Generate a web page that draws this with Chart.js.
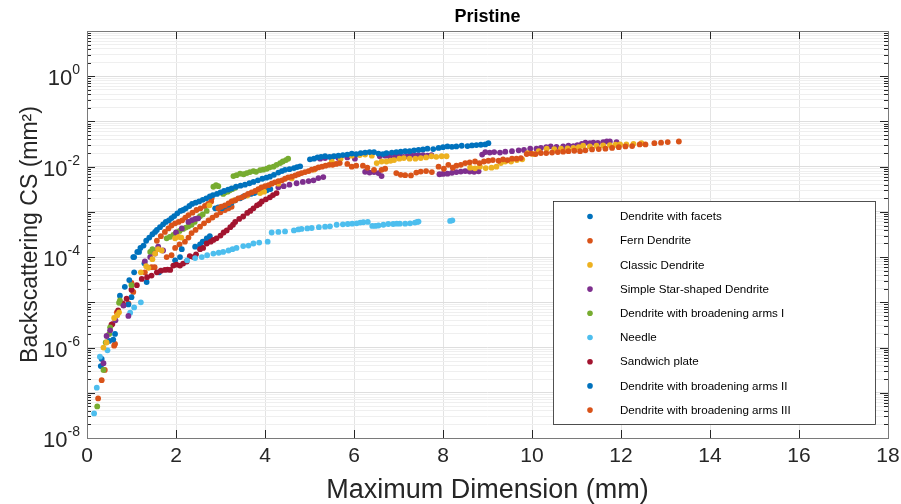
<!DOCTYPE html>
<html>
<head>
<meta charset="utf-8">
<script src="https://cdn.jsdelivr.net/npm/chart.js@4.4.0/dist/chart.umd.min.js"></script>
<style>
  html, body { margin: 0; padding: 0; background: #fff; }
  #wrap { width: 901px; height: 504px; }
</style>
</head>
<body>
<div id="wrap"><canvas id="chart" width="901" height="504"></canvas></div>
<script>
const FONT = '"Liberation Sans", Arial, Helvetica, sans-serif';

const chartTitle = "Pristine";
const xAxisTitle = "Maximum Dimension (mm)";
const yAxisTitle = "Backscattering CS (mm²)";

const seriesNames = [
  "Dendrite with facets",
  "Fern Dendrite",
  "Classic Dendrite",
  "Simple Star-shaped Dendrite",
  "Dendrite with broadening arms I",
  "Needle",
  "Sandwich plate",
  "Dendrite with broadening arms II",
  "Dendrite with broadening arms III",
];
const seriesColors = ["#0072BD", "#D95319", "#EDB120", "#7E2F8E", "#77AC30", "#4DBEEE", "#A2142F", "#0072BD", "#D95319"];

const xTickValues = [0, 2, 4, 6, 8, 10, 12, 14, 16, 18];
const yTickExponents = [-8, -6, -4, -2, 0];

// [maximum dimension (mm), backscattering cross section (mm^2)]
const dendriteFacets = [
  [1.04,1.0e-4],[1.13,1.3e-4],[1.2,1.6e-4],[1.27,1.8e-4],[1.33,2.3e-4],[1.4,2.7e-4],[1.47,3.2e-4],[1.53,3.6e-4],
  [1.57,4.0e-4],[1.64,4.6e-4],[1.71,5.3e-4],[1.77,6.0e-4],[1.84,6.5e-4],[1.9,7.3e-4],[1.96,8.1e-4],[2.03,9.3e-4],
  [2.1,1.05e-3],[2.16,1.1e-3],[2.22,1.2e-3],[2.3,1.35e-3],[2.36,1.5e-3],[2.44,1.6e-3],[2.52,1.7e-3],[2.6,1.85e-3],
  [2.68,2.0e-3],[2.76,2.2e-3],[2.83,2.35e-3],[2.92,2.5e-3],[3.0,2.7e-3],[3.08,2.9e-3],[3.17,3.1e-3],[3.25,3.3e-3],
  [3.35,3.6e-3],[3.45,3.8e-3],[3.55,4.0e-3],[3.65,4.3e-3],[3.74,4.6e-3],[3.84,5.0e-3],[3.94,5.4e-3],[4.03,5.7e-3],
  [4.11,6.0e-3],[4.2,6.6e-3],[4.3,7.4e-3],[4.38,8.0e-3],[4.45,8.5e-3],[4.55,8.8e-3],[4.65,9.3e-3],[4.72,9.8e-3],
  [4.79,1.02e-2],[5.01,1.45e-2],[5.1,1.5e-2],[5.18,1.6e-2],[5.26,1.65e-2],[5.35,1.7e-2],[5.45,1.65e-2],[5.55,1.7e-2],
  [5.65,1.75e-2],[5.75,1.8e-2],[5.85,1.85e-2],[5.95,1.95e-2],[6.05,1.9e-2],[6.15,2.0e-2],[6.25,2.05e-2],[6.35,2.1e-2],
  [6.45,2.1e-2],[6.55,1.95e-2],[6.65,1.9e-2],[6.73,2.0e-2],[6.85,2.05e-2],[6.95,2.1e-2],[7.05,2.15e-2],[7.15,2.2e-2],
  [7.25,2.2e-2],[7.35,2.3e-2],[7.45,2.35e-2],[7.55,2.4e-2],[7.65,2.5e-2],[7.78,2.45e-2],[7.9,2.6e-2],[8.0,2.7e-2],
  [8.1,2.8e-2],[8.2,2.75e-2],[8.3,2.8e-2],[8.42,2.9e-2],[8.55,2.85e-2],[8.65,2.95e-2],[8.75,3.0e-2],[8.85,3.05e-2],
  [8.95,3.1e-2],[9.02,3.3e-2],
];
const fernDendrite = [
  [2.95,1.2e-3],[3.02,1.3e-3],[3.1,1.4e-3],[3.18,1.55e-3],[3.25,1.7e-3],[3.33,1.8e-3],[3.4,2.0e-3],[3.48,2.1e-3],
  [3.55,2.3e-3],[3.62,2.5e-3],[3.7,2.7e-3],[3.78,2.9e-3],[3.85,3.2e-3],[3.92,3.5e-3],[4.0,3.7e-3],[4.08,3.9e-3],
  [4.15,4.2e-3],[4.22,4.5e-3],[4.3,4.8e-3],[4.38,5.0e-3],[4.45,5.4e-3],[4.52,5.8e-3],[4.6,6.0e-3],[4.68,6.4e-3],
  [4.75,6.8e-3],[4.82,7.2e-3],[4.9,7.6e-3],[4.98,8.0e-3],[5.05,8.6e-3],[5.13,9.0e-3],[5.2,9.6e-3],[5.28,1.0e-2],
  [5.36,1.05e-2],[5.44,1.1e-2],[5.52,1.1e-2],[5.6,1.15e-2],[5.68,1.2e-2],[5.85,1.15e-2],[5.95,1.0e-2],[6.05,1.05e-2],
  [6.2,1.05e-2],[6.3,9.5e-3],[6.45,8.5e-3],[6.62,8.5e-3],[6.7,9.0e-3],[6.95,7.2e-3],[7.05,6.6e-3],[7.15,6.5e-3],
  [7.28,6.4e-3],[7.4,7.4e-3],[7.5,7.8e-3],[7.62,8.0e-3],[7.75,7.6e-3],[7.9,1.0e-2],[8.02,9.0e-3],[8.12,1.1e-2],
  [8.22,9.5e-3],[8.3,1.05e-2],[8.4,1.1e-2],[8.5,1.2e-2],[8.6,1.25e-2],[8.72,1.3e-2],[8.82,1.2e-2],[8.92,1.3e-2],
  [9.02,1.35e-2],[9.12,1.4e-2],[9.25,1.35e-2],[9.35,1.45e-2],[9.45,1.4e-2],[9.55,1.5e-2],[9.65,1.5e-2],[9.75,1.55e-2],
  [9.88,1.9e-2],[9.98,1.95e-2],[10.08,1.9e-2],[10.2,2.0e-2],[10.32,2.0e-2],[10.45,2.05e-2],[10.58,2.1e-2],[10.7,2.15e-2],
  [10.82,2.2e-2],[10.95,2.25e-2],[11.08,2.2e-2],[11.2,2.3e-2],[11.35,2.4e-2],[11.5,2.45e-2],[11.65,2.5e-2],[11.8,2.6e-2],
  [11.95,2.7e-2],[12.1,2.8e-2],[12.25,2.85e-2],[12.42,3.1e-2],[12.55,3.1e-2],[12.75,3.3e-2],[12.9,3.4e-2],[13.05,3.5e-2],
  [13.3,3.6e-2],
];
const classicDendrite = [
  [0.37,1.0e-6],[0.44,1.3e-6],[0.61,4.5e-6],[0.68,5.2e-6],[0.72,6.0e-6],[1.21,4.6e-5],[1.33,6.3e-5],[1.38,5.8e-5],
  [1.47,9.0e-5],[1.53,1.2e-4],[1.6,1.5e-4],[1.68,1.4e-4],[1.98,2.6e-4],[2.06,2.8e-4],[2.12,2.7e-4],[2.75,1.4e-3],
  [3.3,1.8e-3],[3.6,2.3e-3],[3.89,2.6e-3],[3.98,2.8e-3],[4.3,4.2e-3],[4.6,5.5e-3],[5.1,8.6e-3],[5.5,1.3e-2],
  [5.7,1.5e-2],[5.95,1.75e-2],[6.13,1.8e-2],[6.25,1.85e-2],[6.4,1.75e-2],[6.51,1.2e-2],[6.62,1.3e-2],[6.73,1.3e-2],
  [6.82,1.35e-2],[6.9,1.4e-2],[7.02,1.5e-2],[7.12,1.55e-2],[7.25,1.5e-2],[7.38,1.5e-2],[7.5,1.55e-2],[7.62,1.6e-2],
  [7.74,1.7e-2],[7.85,1.65e-2],[7.97,1.7e-2],[8.08,1.7e-2],[8.61,9.5e-3],[8.72,9.2e-3],[8.83,1.0e-2],[8.96,9.3e-3],
  [9.09,9.5e-3],[9.2,1.0e-2],[9.3,1.2e-2],[9.4,1.3e-2],[9.53,1.3e-2],[9.66,1.4e-2],[9.78,1.45e-2],[9.9,2.0e-2],
  [10.03,1.9e-2],[10.15,2.2e-2],[10.33,2.5e-2],[10.5,2.45e-2],[10.65,2.5e-2],[10.8,2.55e-2],[10.93,2.6e-2],[11.05,2.7e-2],
  [11.15,2.9e-2],[11.3,2.8e-2],[11.45,2.9e-2],[11.6,2.95e-2],[11.75,3.0e-2],[11.88,3.05e-2],[11.98,3.1e-2],[12.12,3.1e-2],
  [12.28,3.2e-2],[12.46,3.3e-2],
];
const simpleStar = [
  [0.37,4.5e-7],[0.44,1.8e-6],[0.52,2.4e-6],[0.64,4.0e-6],[0.82,8.5e-6],[0.93,5.0e-6],[1.3,8.0e-5],[1.42,1.0e-4],
  [1.53,1.2e-4],[1.6,1.7e-4],[1.71,1.4e-4],[2.0,3.5e-4],[2.13,4.3e-4],[2.28,6.0e-4],[2.36,6.6e-4],[2.43,7.0e-4],
  [2.5,7.2e-4],[4.3,3.5e-3],[4.42,3.7e-3],[4.55,4.0e-3],[4.71,4.3e-3],[4.85,4.6e-3],[4.98,4.8e-3],[5.09,5.0e-3],
  [5.2,5.6e-3],[5.31,5.9e-3],[5.24,1.5e-2],[5.35,1.55e-2],[5.5,1.6e-2],[5.65,1.55e-2],[5.85,1.6e-2],[6.02,1.5e-2],
  [6.25,7.7e-3],[6.35,7.4e-3],[6.45,7.6e-3],[6.55,7.2e-3],[6.62,6.2e-3],[6.58,1.7e-2],[6.7,1.75e-2],[6.8,1.7e-2],
  [6.92,1.7e-2],[7.02,1.75e-2],[7.11,1.65e-2],[7.2,1.7e-2],[7.29,1.8e-2],[7.38,1.75e-2],[7.45,1.8e-2],[7.55,1.8e-2],
  [7.65,1.75e-2],[7.74,1.8e-2],[7.92,6.8e-3],[8.0,6.9e-3],[8.1,7.0e-3],[8.2,7.3e-3],[8.3,7.6e-3],[8.4,7.8e-3],
  [8.5,8.0e-3],[8.6,7.8e-3],[8.7,7.7e-3],[8.8,7.9e-3],[8.88,1.85e-2],[8.95,2.1e-2],[9.05,2.05e-2],[9.15,2.1e-2],
  [9.28,2.05e-2],[9.4,2.15e-2],[9.55,2.2e-2],[9.7,2.3e-2],[9.82,2.35e-2],[9.96,2.5e-2],[10.1,2.5e-2],[10.2,2.6e-2],
  [10.32,2.7e-2],[10.42,2.8e-2],[10.55,2.75e-2],[10.7,2.8e-2],[10.82,2.9e-2],[10.93,2.85e-2],[11.02,3.0e-2],[11.12,3.2e-2],
  [11.2,3.4e-2],[11.3,3.3e-2],[11.38,3.4e-2],[11.48,3.35e-2],[11.6,3.5e-2],[11.68,3.6e-2],[11.75,3.6e-2],[11.9,3.5e-2],
];
const broadeningArmsI = [
  [0.23,5.0e-8],[0.37,3.2e-7],[0.42,1.3e-6],[0.5,2.0e-6],[0.52,2.8e-6],[0.72,9.8e-6],[0.74,1.1e-5],[1.0,2.4e-5],
  [1.42,1.3e-4],[1.47,1.5e-4],[1.79,2.6e-4],[1.86,2.8e-4],[1.94,3.1e-4],[2.01,3.5e-4],[2.08,3.8e-4],[2.16,4.2e-4],
  [2.22,4.5e-4],[2.28,4.8e-4],[2.35,5.2e-4],[2.42,6.0e-4],[2.48,7.2e-4],[2.54,8.0e-4],[2.6,8.8e-4],[2.69,1.05e-3],
  [2.84,3.6e-3],[2.9,3.9e-3],[2.95,3.7e-3],[3.06,2.5e-3],[3.1,2.7e-3],[3.16,2.8e-3],[3.21,3.0e-3],[3.27,3.2e-3],
  [3.33,3.4e-3],[3.29,6.2e-3],[3.36,6.5e-3],[3.44,7.0e-3],[3.52,6.8e-3],[3.59,7.2e-3],[3.66,7.6e-3],[3.74,8.0e-3],
  [3.8,7.7e-3],[3.89,8.4e-3],[3.96,8.6e-3],[4.04,9.0e-3],[4.1,9.6e-3],[4.19,1.0e-2],[4.26,1.1e-2],[4.34,1.2e-2],
  [4.4,1.3e-2],[4.47,1.4e-2],[4.52,1.5e-2],
];
const needle = [
  [0.16,3.5e-8],[0.22,1.3e-7],[0.29,6.3e-7],[0.46,8.7e-7],[0.97,5.9e-6],[1.06,7.7e-6],[1.21,1.0e-5],[2.25,8.5e-5],
  [2.43,9.5e-5],[2.58,1.0e-4],[2.7,1.1e-4],[2.84,1.2e-4],[2.96,1.25e-4],[3.06,1.3e-4],[3.18,1.4e-4],[3.27,1.5e-4],
  [3.36,1.6e-4],[3.51,1.75e-4],[3.63,1.8e-4],[3.74,2.0e-4],[3.87,2.1e-4],[4.06,2.2e-4],[4.15,3.5e-4],[4.3,3.6e-4],
  [4.45,3.7e-4],[4.65,3.9e-4],[4.75,4.1e-4],[4.82,4.2e-4],[4.95,4.3e-4],[5.05,4.4e-4],[5.21,4.6e-4],[5.35,4.7e-4],
  [5.46,4.8e-4],[5.61,5.2e-4],[5.75,5.3e-4],[5.86,5.4e-4],[5.96,5.5e-4],[6.06,5.6e-4],[6.14,5.8e-4],[6.21,5.9e-4],
  [6.31,6.0e-4],[6.41,4.9e-4],[6.48,4.9e-4],[6.55,5.0e-4],[6.66,5.2e-4],[6.77,5.4e-4],[6.88,5.4e-4],[6.96,5.5e-4],
  [7.03,5.5e-4],[7.15,5.5e-4],[7.26,5.6e-4],[7.37,5.8e-4],[7.42,6.0e-4],[7.45,6.1e-4],[8.16,6.3e-4],[8.21,6.5e-4],
];
const sandwichPlate = [
  [0.55,3.2e-6],[0.57,3.3e-6],[0.7,6.6e-6],[0.8,9.5e-6],[0.89,1.2e-5],[1.0,1.9e-5],[1.12,2.4e-5],[1.23,3.3e-5],
  [1.35,3.6e-5],[1.45,3.9e-5],[1.57,4.6e-5],[1.66,5.0e-5],[1.75,5.2e-5],[1.81,5.3e-5],[1.87,5.2e-5],[1.94,6.5e-5],
  [2.01,6.8e-5],[2.09,6.5e-5],[2.16,7.2e-5],[2.24,8.0e-5],[2.31,1.05e-4],[2.39,1.0e-4],[2.45,1.15e-4],[2.54,1.5e-4],
  [2.61,1.6e-4],[2.69,2.0e-4],[2.78,2.2e-4],[2.84,2.4e-4],[2.91,2.6e-4],[3.0,3.0e-4],[3.07,3.5e-4],[3.14,3.9e-4],
  [3.22,4.6e-4],[3.28,5.2e-4],[3.33,6.0e-4],[3.42,7.0e-4],[3.51,7.9e-4],[3.6,9.5e-4],[3.67,1.05e-3],[3.74,1.2e-3],
  [3.82,1.4e-3],[3.88,1.5e-3],[3.93,1.7e-3],[4.02,1.9e-3],[4.11,2.1e-3],[4.18,2.35e-3],[4.26,2.6e-3],
];
const broadeningArmsII = [
  [0.31,3.9e-7],[0.33,5.6e-7],[0.5,1.4e-6],[0.59,1.5e-6],[0.63,2.0e-6],[0.74,1.4e-5],[0.85,2.2e-5],[0.93,9.0e-6],
  [0.95,3.1e-5],[1.0,1.3e-5],[1.06,4.6e-5],[1.06,1.0e-4],[1.17,1.3e-4],[1.29,7.3e-5],[1.34,2.8e-5],[1.62,4.6e-5],
  [1.98,8.5e-5],[2.09,1.0e-4],[2.13,1.5e-4],[2.43,1.7e-4],[2.54,1.9e-4],[2.6,2.2e-4],[2.69,2.6e-4],[2.76,2.9e-4],
  [2.88,1.2e-3],[2.95,1.25e-3],[3.03,1.2e-3],[3.1,1.35e-3],[3.18,1.45e-3],[3.25,1.6e-3],[3.33,1.8e-3],[3.44,2.0e-3],
  [3.52,2.2e-3],[3.6,2.35e-3],[3.68,2.5e-3],[3.76,2.6e-3],[3.85,2.8e-3],[3.95,2.9e-3],[4.04,3.0e-3],[4.12,3.2e-3],
];
const broadeningArmsIII = [
  [0.25,7.5e-8],[0.33,1.9e-7],[0.4,3.2e-7],[0.61,1.1e-6],[0.63,1.2e-6],[0.67,6.0e-6],[0.82,8.7e-6],[0.93,9.5e-6],
  [1.0,2.7e-5],[1.04,1.7e-5],[1.3,4.6e-5],[1.45,6.0e-5],[1.52,6.0e-5],[1.45,1.3e-4],[1.49,1.4e-4],[1.57,2.3e-4],
  [1.66,2.9e-4],[1.75,3.6e-4],[1.83,4.3e-4],[1.9,5.0e-4],[1.98,5.6e-4],[2.06,6.0e-4],[2.14,6.5e-4],[2.21,7.5e-4],
  [2.28,8.5e-4],[2.37,9.6e-4],[2.46,1.1e-3],[2.55,1.2e-3],[2.65,1.35e-3],[2.72,1.5e-3],[2.79,1.7e-3],[2.8,2.0e-3],
  [1.79,1.0e-4],[1.9,1.1e-4],[1.98,1.6e-4],[2.08,1.9e-4],[2.2,2.2e-4],[2.28,2.7e-4],[2.35,3.4e-4],[2.44,4.0e-4],
  [2.54,4.7e-4],[2.63,5.6e-4],[2.73,6.5e-4],[2.82,7.5e-4],[2.91,8.5e-4],[3.0,9.8e-4],[3.1,1.1e-3],[3.18,1.2e-3],
  [3.25,1.3e-3],
];

const seriesData = [dendriteFacets, fernDendrite, classicDendrite, simpleStar, broadeningArmsI, needle, sandwichPlate, broadeningArmsII, broadeningArmsIII];

// grid values: every 1..9 x 10^k between 1e-8 and 10
const yGridValues = [];
for (let e = -8; e <= 0; e++) {
  for (let k = 1; k <= 9; k++) yGridValues.push(k * Math.pow(10, e));
}
yGridValues.push(10);
const isDecade = (v) => Math.abs(Math.log10(v) - Math.round(Math.log10(v))) < 1e-9;

const datasets = seriesNames.map((name, i) => ({
  label: name,
  data: seriesData[i].map(p => ({ x: p[0], y: p[1] })),
  backgroundColor: seriesColors[i],
  borderColor: seriesColors[i],
  pointRadius: 2.9,
  pointBorderWidth: 0,
  showLine: false,
}));

const matlabLook = {
  id: "matlabLook",
  beforeDraw(chart) {
    const ctx = chart.ctx;
    ctx.save();
    ctx.fillStyle = "#fff";
    ctx.fillRect(0, 0, chart.width, chart.height);
    ctx.restore();
  },
  afterDraw(chart) {
    const ctx = chart.ctx;
    const { left, right, top, bottom } = chart.chartArea;
    const xs = chart.scales.x, ys = chart.scales.y;
    ctx.save();

    // box and inward ticks
    ctx.strokeStyle = "#262626";
    ctx.lineWidth = 1;
    ctx.beginPath();
    xTickValues.forEach(v => {
      const px = Math.round(xs.getPixelForValue(v)) + 0.5;
      ctx.moveTo(px, bottom); ctx.lineTo(px, bottom - 8);
      ctx.moveTo(px, top); ctx.lineTo(px, top + 8);
    });
    yGridValues.forEach(v => {
      const py = Math.round(ys.getPixelForValue(v)) + 0.5;
      const len = isDecade(v) ? 8 : 4;
      ctx.moveTo(left, py); ctx.lineTo(left + len, py);
      ctx.moveTo(right, py); ctx.lineTo(right - len, py);
    });
    ctx.stroke();
    ctx.strokeStyle = "#7a7a7a";
    ctx.strokeRect(Math.round(left) + 0.5, Math.round(top) + 0.5, Math.round(right - left), Math.round(bottom - top));

    // y tick labels 10^n
    ctx.fillStyle = "#262626";
    ctx.textBaseline = "alphabetic";
    yTickExponents.forEach(n => {
      const py = ys.getPixelForValue(Math.pow(10, n));
      const exp = String(n);
      ctx.font = "14px " + FONT;
      const ew = ctx.measureText(exp).width;
      ctx.textAlign = "left";
      const xEnd = left - 7;
      ctx.fillText(exp, xEnd - ew, py - 2);
      ctx.font = "22px " + FONT;
      ctx.textAlign = "right";
      ctx.fillText("10", xEnd - ew, py + 9);
    });

    // title
    ctx.font = "bold 18px " + FONT;
    ctx.textAlign = "center";
    ctx.textBaseline = "middle";
    ctx.fillStyle = "#000";
    ctx.fillText(chartTitle, (left + right) / 2, 17);

    // legend box
    const lw = 322, lh = 223;
    const lx = right - 13 - lw, ly = bottom - 14 - lh;
    ctx.fillStyle = "#fff";
    ctx.fillRect(lx, ly, lw, lh);
    ctx.strokeStyle = "#262626";
    ctx.lineWidth = 0.8;
    ctx.strokeRect(Math.round(lx) + 0.5, Math.round(ly) + 0.5, lw, lh);
    ctx.font = "11.6px " + FONT;
    ctx.textAlign = "left";
    ctx.textBaseline = "middle";
    seriesNames.forEach((name, i) => {
      const cy = ly + 15.5 + i * 24.2;
      ctx.fillStyle = seriesColors[i];
      ctx.beginPath();
      ctx.arc(lx + 37, cy, 2.8, 0, Math.PI * 2);
      ctx.fill();
      ctx.fillStyle = "#000";
      ctx.fillText(name, lx + 67, cy + 0.5);
    });
    ctx.restore();
  },
};

new Chart(document.getElementById("chart"), {
  type: "scatter",
  data: { datasets },
  plugins: [matlabLook],
  options: {
    responsive: false,
    animation: false,
    layout: { padding: { top: 31, right: 13, left: 0, bottom: 0 } },
    plugins: { legend: { display: false }, tooltip: { enabled: false }, title: { display: false } },
    scales: {
      x: {
        type: "linear",
        min: 0,
        max: 18,
        afterBuildTicks: (s) => { s.ticks = xTickValues.map(v => ({ value: v })); },
        afterFit: (s) => { s.height = 66; s.paddingLeft = 0; s.paddingRight = 0; },
        ticks: { font: { size: 21, family: FONT }, color: "#262626", padding: 6, maxRotation: 0, callback: (v) => String(v) },
        grid: { color: "#e3e3e3", drawTicks: false },
        border: { display: false },
        title: { display: true, text: xAxisTitle, color: "#262626", font: { size: 27, family: FONT, lineHeight: 1 }, padding: { top: 3, bottom: 0 } },
      },
      y: {
        type: "logarithmic",
        min: 1e-8,
        max: 10,
        afterBuildTicks: (s) => { s.ticks = yGridValues.map(v => ({ value: v })); },
        afterFit: (s) => { s.width = 87; },
        ticks: { display: false },
        grid: { color: (c) => (isDecade(c.tick.value) ? "#dedede" : "#efefef"), drawTicks: false },
        border: { display: false },
        title: { display: true, text: yAxisTitle, color: "#262626", font: { size: 23, family: FONT, lineHeight: 1 }, padding: { top: 19, bottom: 0 } },
      },
    },
  },
});
</script>
</body>
</html>
